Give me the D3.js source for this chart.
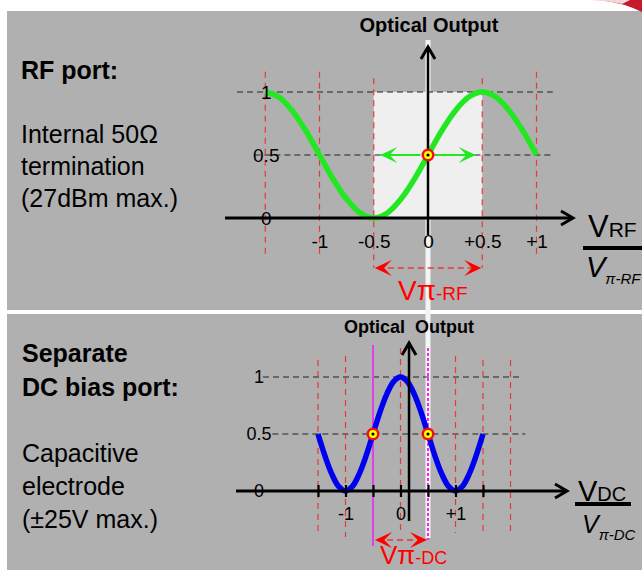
<!DOCTYPE html>
<html><head><meta charset="utf-8">
<script src="https://cdn.jsdelivr.net/npm/d3@7"></script>
<style>
body{margin:0;background:#fff;}
svg{display:block;font-family:"Liberation Sans",Arial,sans-serif;}
</style>
</head><body>
<svg id="c" width="642" height="570"></svg>
<script>
// ---------- data ----------
// RF port transfer curve (normalised V_RF / V_pi-RF -> optical output)
const rfX = [-1.5,-1.375,-1.25,-1.125,-1,-0.875,-0.75,-0.625,-0.5,-0.375,-0.25,-0.125,0,0.125,0.25,0.375,0.5,0.625,0.75,0.875,1];
const rfY = [1,0.96,0.85,0.69,0.5,0.31,0.15,0.04,0,0.04,0.15,0.31,0.5,0.69,0.85,0.96,1,0.96,0.85,0.69,0.5];
// DC bias transfer curve
const dcX = [-1.5,-1.375,-1.25,-1.125,-1,-0.875,-0.75,-0.625,-0.5,-0.375,-0.25,-0.125,0,0.125,0.25,0.375,0.5,0.625,0.75,0.875,1,1.125,1.25,1.375,1.5];
const dcY = [0.5,0.31,0.15,0.04,0,0.04,0.15,0.31,0.5,0.69,0.85,0.96,1,0.96,0.85,0.69,0.5,0.31,0.15,0.04,0,0.04,0.15,0.31,0.5];
// axes / labels
const rfTickVals = [-1,-0.5,0,0.5,1];
const rfTickLabels = ["-1","-0.5","0","+0.5","+1"];
const rfGridX = [-1.5,-1,-0.5,0.5,1];
const levelVals = [0,0.5,1];
const levelLabels = ["0","0.5","1"];
const dcTickVals = [-1.5,-1,-0.5,0,0.5,1,1.5];
const dcTickLabels = ["","-1","","0","","+1",""];
const dcGridX = [-1.5,-1,0,1,1.5,2];
const rfBiasX = [0], rfBiasY = [0.5];
const dcBiasX = [-0.5,0.5], dcBiasY = [0.5,0.5];
const rfText = {title:"RF port:", body:["Internal 50\u03A9","termination","(27dBm max.)"]};
const dcText = {title:["Separate","DC bias port:"], body:["Capacitive","electrode","(\u00B125V max.)"]};

(function(){
const svg = d3.select("#c");
const RED = "#e8383a", GRID = "#e23b3b";

svg.append("rect").attr("width",642).attr("height",570).attr("fill","#fff");
svg.append("rect").attr("x",7).attr("y",11).attr("width",635).attr("height",299).attr("fill","#b0b0b0");
svg.append("rect").attr("x",7).attr("y",314).attr("width",635).attr("height",256).attr("fill","#b0b0b0");
svg.append("path").attr("d","M600,0 Q624,3 642,12 L642,0 Z").attr("fill","#c41a2c");
svg.append("path").attr("d","M590,0 Q610,1 622,4 L630,0 Z").attr("fill","#f3d6da");

const xRF = d3.scaleLinear().domain([-1,1]).range([319.5,536.5]);
const yRF = d3.scaleLinear().domain([0,1]).range([218,92]);
const xDC = d3.scaleLinear().domain([-1,1]).range([345.5,455.5]);
const yDC = d3.scaleLinear().domain([0,1]).range([491,377]);

svg.append("rect").attr("x",xRF(0)-2.5).attr("y",40).attr("width",5).attr("height",498).attr("fill","#f4f4f4");

function arrowHead(g, x, y, angle, color, len, half){
  g.append("path").attr("d",`M0,0 L${-len},${-half} L${-len*0.55},0 L${-len},${half} Z`)
   .attr("transform",`translate(${x},${y}) rotate(${angle})`).attr("fill",color);
}
function chevron(g, x, y, angle){
  g.append("path").attr("d","M-12,-7 L0,0 L-12,7")
   .attr("transform",`translate(${x},${y}) rotate(${angle})`)
   .attr("fill","none").attr("stroke","#000").attr("stroke-width",3).attr("stroke-linejoin","miter");
}
function biasPoint(g,x,y){
  g.append("circle").attr("cx",x).attr("cy",y).attr("r",6.5).attr("fill","#f01010");
  g.append("circle").attr("cx",x).attr("cy",y).attr("r",4).attr("fill","#ffff00");
  g.append("circle").attr("cx",x).attr("cy",y).attr("r",1.6).attr("fill","#000");
}

// ===== TOP (RF) =====
const gT = svg.append("g");
gT.append("rect").attr("x",xRF(-0.5)).attr("y",yRF(1)).attr("width",xRF(0.5)-xRF(-0.5)).attr("height",yRF(0)-yRF(1)).attr("fill","#efefef");
gT.append("line").attr("x1",xRF(-1.76)).attr("x2",xRF(1.15)).attr("y1",yRF(1)).attr("y2",yRF(1)).attr("stroke","#222").attr("stroke-dasharray","6,4");
gT.append("line").attr("x1",xRF(-1.6)).attr("x2",xRF(1.15)).attr("y1",yRF(0.5)).attr("y2",yRF(0.5)).attr("stroke","#222").attr("stroke-dasharray","6,4");
gT.selectAll("line.gv").data(rfGridX).join("line").attr("class","gv")
  .attr("x1",d=>xRF(d)).attr("x2",d=>xRF(d))
  .attr("y1",d=>Math.abs(d)===0.5?yRF(1.11):yRF(1.16))
  .attr("y2",d=>Math.abs(d)===0.5?268:258)
  .attr("stroke",GRID).attr("stroke-width",1.2).attr("stroke-dasharray","6,5");
gT.append("path").datum(rfX.map((x,i)=>[x,rfY[i]]))
  .attr("d",d3.line().x(d=>xRF(d[0])).y(d=>yRF(d[1])).curve(d3.curveCatmullRom))
  .attr("fill","none").attr("stroke","#22e822").attr("stroke-width",5.5);
gT.append("line").attr("x1",225).attr("x2",572).attr("y1",yRF(0)).attr("y2",yRF(0)).attr("stroke","#000").attr("stroke-width",3);
chevron(gT,573,yRF(0),0);
gT.append("line").attr("x1",xRF(0)).attr("x2",xRF(0)).attr("y1",235).attr("y2",48).attr("stroke","#000").attr("stroke-width",2.5);
chevron(gT,xRF(0),47,-90);
const axT = gT.append("g").attr("transform",`translate(0,${yRF(0)})`)
  .call(d3.axisBottom(xRF).tickValues(rfTickVals).tickFormat((d,i)=>rfTickLabels[i]).tickSize(0).tickPadding(17));
axT.select(".domain").remove();
axT.selectAll("text").attr("font-size",19).attr("font-family","Liberation Sans, Arial, sans-serif").attr("fill","#000");
gT.selectAll("text.lv").data(levelVals).join("text").attr("class","lv")
  .attr("x",xRF(-1.5)+1).attr("y",d=>yRF(d)).attr("dy","0.36em").attr("text-anchor","middle")
  .attr("font-size",19).text((d,i)=>levelLabels[i]);
const yb = yRF(0.5);
gT.append("line").attr("x1",xRF(0)-8).attr("x2",xRF(-0.44)).attr("y1",yb).attr("y2",yb).attr("stroke","#22e822").attr("stroke-width",1.8);
gT.append("line").attr("x1",xRF(0)+8).attr("x2",xRF(0.44)).attr("y1",yb).attr("y2",yb).attr("stroke","#22e822").attr("stroke-width",1.8);
arrowHead(gT,xRF(-0.44),yb,180,"#22e822",17,8);
arrowHead(gT,xRF(0.44),yb,0,"#22e822",17,8);
rfBiasX.forEach((x,i)=>biasPoint(gT,xRF(x),yRF(rfBiasY[i])));
gT.append("line").attr("x1",xRF(-0.5)+4).attr("x2",xRF(0.5)-4).attr("y1",268).attr("y2",268).attr("stroke",RED).attr("stroke-width",1.5).attr("stroke-dasharray","6,4");
arrowHead(gT,xRF(-0.5)+1,268,180,"#ff0000",17,8);
arrowHead(gT,xRF(0.5)-1,268,0,"#ff0000",17,8);
const vt = gT.append("text").attr("x",398).attr("y",300).attr("fill","#ff0000");
vt.append("tspan").attr("font-size",28).text("V\u03C0");
vt.append("tspan").attr("font-size",19).text("-RF");
gT.append("text").attr("x",xRF(0)+1).attr("y",32).attr("text-anchor","middle").attr("font-weight","bold").attr("font-size",20).text("Optical Output");
const fn = gT.append("text").attr("x",588).attr("y",237);
fn.append("tspan").attr("font-size",31).text("V");
fn.append("tspan").attr("font-size",21).text("RF");
gT.append("line").attr("x1",583).attr("x2",642).attr("y1",248).attr("y2",248).attr("stroke","#000").attr("stroke-width",4);
const fd = gT.append("text").attr("x",586).attr("y",277).attr("font-style","italic");
fd.append("tspan").attr("font-size",29).text("V");
fd.append("tspan").attr("font-size",15).attr("dy",7).text("\u03C0-RF");
gT.append("text").attr("x",21).attr("y",79).attr("font-weight","bold").attr("font-size",25).text(rfText.title);
gT.selectAll("text.bd").data(rfText.body).join("text").attr("class","bd")
  .attr("x",21).attr("y",(d,i)=>143+i*32).attr("font-size",25).text(d=>d);

// ===== BOTTOM (DC) =====
const gB = svg.append("g");
gB.append("line").attr("x1",xDC(-2.5)).attr("x2",xDC(2.2)).attr("y1",yDC(1)).attr("y2",yDC(1)).attr("stroke","#222").attr("stroke-dasharray","6,4");
gB.append("line").attr("x1",xDC(-2.33)).attr("x2",xDC(2.27)).attr("y1",yDC(0.5)).attr("y2",yDC(0.5)).attr("stroke","#222").attr("stroke-dasharray","6,4");
gB.selectAll("line.gv").data(dcGridX).join("line").attr("class","gv")
  .attr("x1",d=>xDC(d)).attr("x2",d=>xDC(d))
  .attr("y1",d=>d===0?348:(Math.abs(d)===1?356:360)).attr("y2",d=>d===-1?537:533)
  .attr("stroke",GRID).attr("stroke-width",1.2).attr("stroke-dasharray","6,5");
gB.append("line").attr("x1",xDC(-0.5)).attr("x2",xDC(-0.5)).attr("y1",345).attr("y2",546).attr("stroke","#e040e8").attr("stroke-width",2);
gB.append("line").attr("x1",xDC(0.5)).attr("x2",xDC(0.5)).attr("y1",348).attr("y2",540).attr("stroke","#ff20ff").attr("stroke-width",2).attr("stroke-dasharray","3,2");
gB.append("path").datum(dcX.map((x,i)=>[x,dcY[i]]))
  .attr("d",d3.line().x(d=>xDC(d[0])).y(d=>yDC(d[1])).curve(d3.curveCatmullRom))
  .attr("fill","none").attr("stroke","#0000f0").attr("stroke-width",5.5);
gB.append("line").attr("x1",236).attr("x2",566).attr("y1",yDC(0)).attr("y2",yDC(0)).attr("stroke","#000").attr("stroke-width",3);
chevron(gB,567,yDC(0),0);
gB.append("line").attr("x1",xDC(0.155)).attr("x2",xDC(0.155)).attr("y1",521).attr("y2",344).attr("stroke","#000").attr("stroke-width",2.5);
chevron(gB,xDC(0.155),343,-90);
const axB = gB.append("g").attr("transform",`translate(0,${yDC(0)})`)
  .call(d3.axisBottom(xDC).tickValues(dcTickVals).tickFormat((d,i)=>dcTickLabels[i]).tickSize(6).tickPadding(10));
axB.select(".domain").remove();
axB.selectAll("line").attr("y1",-6).attr("y2",6).attr("stroke","#000").attr("stroke-width",2.2);
axB.selectAll("text").attr("font-size",18).attr("font-family","Liberation Sans, Arial, sans-serif").attr("fill","#000");
gB.selectAll("text.lv").data(levelVals).join("text").attr("class","lv")
  .attr("x",259).attr("y",d=>yDC(d)).attr("dy","0.36em").attr("text-anchor","middle")
  .attr("font-size",18).text((d,i)=>levelLabels[i]);
dcBiasX.forEach((x,i)=>biasPoint(gB,xDC(x),yDC(dcBiasY[i])));
gB.append("line").attr("x1",xDC(-0.5)+4).attr("x2",xDC(0.5)-4).attr("y1",540).attr("y2",540).attr("stroke",RED).attr("stroke-width",1.5).attr("stroke-dasharray","6,4");
arrowHead(gB,xDC(-0.5)+2,540,180,"#ff0000",17,8);
arrowHead(gB,xDC(0.5)-1,540,0,"#ff0000",17,8);
const vb = gB.append("text").attr("x",380).attr("y",564).attr("fill","#ff0000");
vb.append("tspan").attr("font-size",26).text("V\u03C0");
vb.append("tspan").attr("font-size",18).text("-DC");
gB.append("text").attr("x",xDC(0.155)).attr("y",333).attr("text-anchor","middle").attr("font-weight","bold").attr("font-size",18).style("white-space","pre").text("Optical  Output");
const bn = gB.append("text").attr("x",578).attr("y",501);
bn.append("tspan").attr("font-size",29).text("V");
bn.append("tspan").attr("font-size",20).text("DC");
gB.append("line").attr("x1",575).attr("x2",631).attr("y1",504).attr("y2",504).attr("stroke","#000").attr("stroke-width",4);
const bdn = gB.append("text").attr("x",582).attr("y",533).attr("font-style","italic");
bdn.append("tspan").attr("font-size",25).text("V");
bdn.append("tspan").attr("font-size",15).attr("dy",7).text("\u03C0-DC");
gB.selectAll("text.tt").data(dcText.title).join("text").attr("class","tt")
  .attr("x",22).attr("y",(d,i)=>362+i*34).attr("font-weight","bold").attr("font-size",25).text(d=>d);
gB.selectAll("text.bd").data(dcText.body).join("text").attr("class","bd")
  .attr("x",22).attr("y",(d,i)=>462+i*33).attr("font-size",25).text(d=>d);
})();
</script>
</body></html>
